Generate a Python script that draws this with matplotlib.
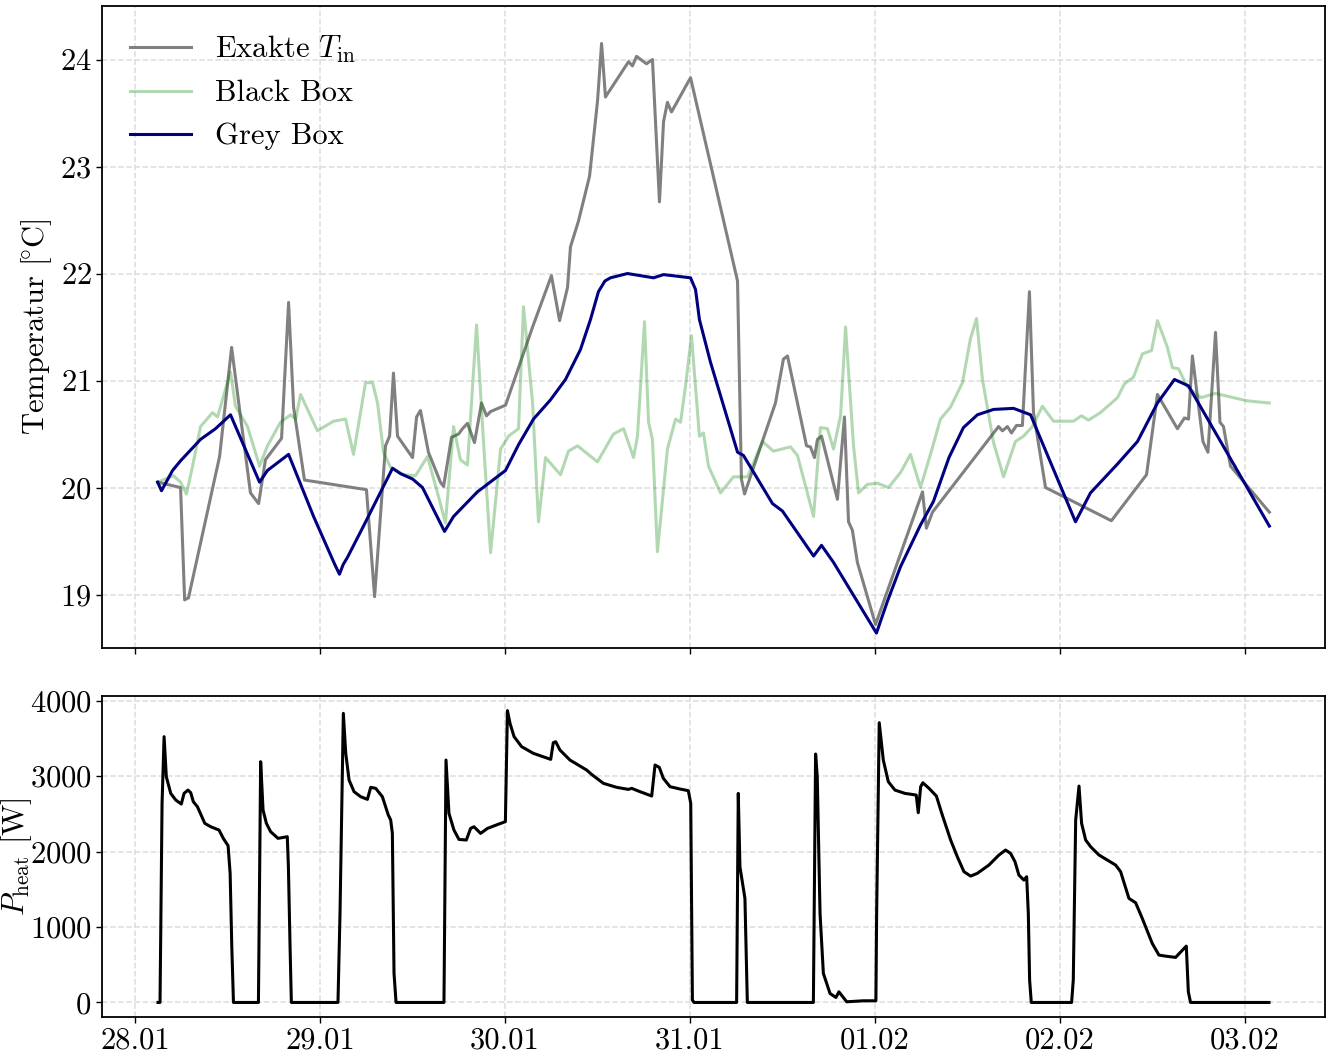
import matplotlib
matplotlib.use("Agg")
import matplotlib.pyplot as plt
import matplotlib.dates as mdates
import pandas as pd

plt.rcParams["font.family"] = ["cmr10", "DejaVu Serif"]
plt.rcParams["mathtext.fontset"] = "cm"
plt.rcParams["axes.formatter.use_mathtext"] = True
plt.rcParams["font.size"] = 22
plt.rcParams["axes.unicode_minus"] = False

start = pd.Timestamp("2024-01-28 00:00")

# measured indoor temperature (days since start, degC)
t_exact = [0.122, 0.246, 0.268, 0.289, 0.457, 0.522, 0.565, 0.624, 0.668, 0.705,
           0.792, 0.830, 0.857, 0.916, 1.251, 1.295, 1.354, 1.376, 1.397, 1.419,
           1.500, 1.522, 1.543, 1.586, 1.651, 1.668, 1.711, 1.749, 1.770, 1.797,
           1.835, 1.873, 1.900, 1.922, 2.003, 2.149, 2.251, 2.295, 2.338, 2.354,
           2.397, 2.457, 2.500, 2.522, 2.543, 2.668, 2.689, 2.711, 2.765, 2.797,
           2.835, 2.857, 2.878, 2.900, 3.003, 3.257, 3.278, 3.295, 3.397, 3.462,
           3.505, 3.527, 3.630, 3.651, 3.673, 3.689, 3.711, 3.797, 3.835, 3.857,
           3.878, 3.905, 4.003, 4.257, 4.278, 4.311, 4.668, 4.689, 4.716, 4.738,
           4.765, 4.797, 4.835, 4.857, 4.922, 5.278, 5.468, 5.527, 5.635, 5.673,
           5.695, 5.716, 5.773, 5.800, 5.841, 5.865, 5.884, 5.922, 6.132]
T_exact = [20.05, 20.00, 18.95, 18.97, 20.29, 21.31, 20.73, 19.95, 19.85, 20.26,
           20.46, 21.73, 20.75, 20.07, 19.98, 18.98, 20.39, 20.48, 21.07, 20.48,
           20.28, 20.66, 20.72, 20.33, 20.05, 20.01, 20.47, 20.50, 20.55, 20.60,
           20.42, 20.79, 20.67, 20.71, 20.77, 21.50, 21.98, 21.56, 21.87, 22.25,
           22.49, 22.91, 23.61, 24.15, 23.65, 23.98, 23.94, 24.03, 23.96, 24.00,
           22.67, 23.42, 23.60, 23.51, 23.83, 21.93, 20.08, 19.94, 20.46, 20.79,
           21.20, 21.23, 20.39, 20.38, 20.28, 20.45, 20.48, 19.89, 20.66, 19.68,
           19.60, 19.30, 18.72, 19.96, 19.62, 19.77, 20.57, 20.53, 20.57, 20.51,
           20.58, 20.58, 21.83, 20.70, 20.00, 19.69, 20.12, 20.87, 20.55, 20.65,
           20.64, 21.23, 20.43, 20.33, 21.45, 20.61, 20.57, 20.20, 19.77]

# black box model prediction
t_black = [0.122, 0.208, 0.246, 0.278, 0.311, 0.354, 0.419, 0.446, 0.489, 0.516,
           0.543, 0.608, 0.673, 0.716, 0.786, 0.841, 0.868, 0.895, 0.986, 1.073,
           1.138, 1.181, 1.246, 1.284, 1.311, 1.343, 1.381, 1.451, 1.516, 1.581,
           1.635, 1.678, 1.722, 1.759, 1.797, 1.846, 1.884, 1.922, 1.976, 2.019,
           2.073, 2.100, 2.149, 2.181, 2.219, 2.300, 2.343, 2.392, 2.500, 2.586,
           2.641, 2.695, 2.716, 2.754, 2.776, 2.797, 2.824, 2.878, 2.922, 2.949,
           2.976, 3.008, 3.051, 3.073, 3.100, 3.165, 3.235, 3.311, 3.392, 3.451,
           3.543, 3.581, 3.668, 3.705, 3.743, 3.776, 3.814, 3.841, 3.884, 3.911,
           3.959, 4.014, 4.073, 4.138, 4.192, 4.246, 4.300, 4.354, 4.408, 4.473,
           4.516, 4.549, 4.581, 4.641, 4.695, 4.759, 4.803, 4.851, 4.905, 4.965,
           5.073, 5.116, 5.154, 5.219, 5.311, 5.349, 5.397, 5.446, 5.495, 5.527,
           5.581, 5.608, 5.641, 5.689, 5.762, 5.841, 5.938, 6.014, 6.132]
T_black = [20.05, 20.11, 20.05, 19.94, 20.20, 20.57, 20.70, 20.66, 20.92, 21.08,
           20.76, 20.57, 20.20, 20.39, 20.61, 20.68, 20.64, 20.87, 20.53, 20.62,
           20.64, 20.31, 20.98, 20.98, 20.79, 20.33, 20.19, 20.12, 20.11, 20.29,
           19.95, 19.67, 20.57, 20.26, 20.21, 21.52, 20.42, 19.39, 20.36, 20.48,
           20.55, 21.69, 20.79, 19.68, 20.28, 20.12, 20.34, 20.39, 20.24, 20.50,
           20.55, 20.28, 20.48, 21.55, 20.61, 20.45, 19.40, 20.36, 20.64, 20.61,
           20.95, 21.42, 20.48, 20.51, 20.20, 19.95, 20.10, 20.10, 20.43, 20.34,
           20.38, 20.30, 19.73, 20.56, 20.55, 20.36, 20.67, 21.50, 20.39, 19.95,
           20.03, 20.04, 20.00, 20.14, 20.31, 20.00, 20.31, 20.64, 20.75, 20.98,
           21.39, 21.58, 21.01, 20.42, 20.10, 20.43, 20.48, 20.57, 20.76, 20.62,
           20.62, 20.67, 20.63, 20.70, 20.84, 20.97, 21.03, 21.25, 21.28, 21.56,
           21.31, 21.12, 21.11, 20.94, 20.84, 20.88, 20.84, 20.81, 20.79]

# grey box model prediction
t_grey = [0.122, 0.143, 0.203, 0.246, 0.354, 0.435, 0.516, 0.673, 0.716, 0.830,
          0.965, 1.080, 1.105, 1.125, 1.149, 1.235, 1.392, 1.435, 1.500, 1.554,
          1.673, 1.722, 1.851, 2.003, 2.073, 2.154, 2.246, 2.327, 2.408, 2.462,
          2.505, 2.540, 2.570, 2.662, 2.803, 2.857, 3.003, 3.030, 3.051, 3.111,
          3.257, 3.289, 3.338, 3.446, 3.500, 3.668, 3.711, 3.776, 4.008, 4.068,
          4.138, 4.246, 4.316, 4.400, 4.478, 4.554, 4.641, 4.749, 4.841, 5.084,
          5.165, 5.311, 5.419, 5.527, 5.619, 5.695, 6.132]
T_grey = [20.05, 19.97, 20.16, 20.25, 20.45, 20.55, 20.68, 20.05, 20.16, 20.31,
          19.73, 19.28, 19.19, 19.28, 19.35, 19.64, 20.18, 20.13, 20.08, 20.00,
          19.59, 19.73, 19.96, 20.16, 20.40, 20.64, 20.82, 21.01, 21.29, 21.57,
          21.83, 21.93, 21.96, 22.00, 21.96, 21.99, 21.96, 21.85, 21.57, 21.17,
          20.33, 20.30, 20.16, 19.85, 19.78, 19.36, 19.46, 19.30, 18.64, 18.94,
          19.26, 19.65, 19.87, 20.28, 20.56, 20.68, 20.73, 20.74, 20.68, 19.68,
          19.95, 20.22, 20.43, 20.79, 21.01, 20.95, 19.64]

# heating power
t_heat = [0.124, 0.135, 0.146, 0.157, 0.169, 0.193, 0.220, 0.250, 0.265, 0.286,
          0.301, 0.315, 0.337, 0.377, 0.409, 0.454, 0.477, 0.503, 0.514, 0.523,
          0.532, 0.667, 0.679, 0.692, 0.710, 0.733, 0.773, 0.823, 0.829, 0.838,
          0.845, 1.097, 1.108, 1.126, 1.139, 1.157, 1.184, 1.220, 1.256, 1.274,
          1.301, 1.337, 1.369, 1.382, 1.391, 1.400, 1.411, 1.670, 1.681, 1.697,
          1.724, 1.751, 1.791, 1.814, 1.832, 1.868, 1.905, 1.967, 2.002, 2.013,
          2.027, 2.049, 2.090, 2.153, 2.247, 2.261, 2.274, 2.297, 2.351, 2.441,
          2.468, 2.532, 2.604, 2.667, 2.685, 2.721, 2.793, 2.811, 2.834, 2.856,
          2.892, 2.946, 2.991, 3.004, 3.013, 3.022, 3.252, 3.261, 3.270, 3.297,
          3.310, 3.667, 3.679, 3.688, 3.703, 3.721, 3.757, 3.789, 3.805, 3.847,
          3.937, 4.005, 4.009, 4.023, 4.045, 4.072, 4.108, 4.162, 4.223, 4.234,
          4.247, 4.259, 4.292, 4.332, 4.364, 4.409, 4.445, 4.481, 4.517, 4.553,
          4.616, 4.670, 4.706, 4.733, 4.757, 4.778, 4.805, 4.820, 4.829, 4.836,
          4.845, 5.063, 5.072, 5.085, 5.103, 5.117, 5.139, 5.166, 5.211, 5.256,
          5.301, 5.328, 5.373, 5.409, 5.445, 5.499, 5.535, 5.571, 5.625, 5.683,
          5.694, 5.706, 6.130]
P_heat = [0, 0, 2639, 3523, 2992, 2771, 2683, 2630, 2771, 2815,
          2780, 2661, 2595, 2374, 2329, 2285, 2175, 2077, 1711, 738,
          0, 0, 3191, 2550, 2374, 2263, 2175, 2197, 1799, 738,
          0, 0, 1180, 3832, 3302, 2948, 2793, 2727, 2692, 2851,
          2838, 2727, 2484, 2418, 2241, 385, 0, 0, 3213, 2506,
          2285, 2161, 2153, 2307, 2329, 2241, 2307, 2365, 2396, 3868,
          3700, 3523, 3390, 3302, 3222, 3443, 3456, 3346, 3213, 3081,
          3023, 2904, 2851, 2824, 2838, 2802, 2736, 3147, 3116, 2970,
          2860, 2829, 2807, 2639, 31, 0, 0, 2771, 1799, 1379,
          0, 0, 3293, 2992, 1180, 385, 119, 66, 141, 9,
          22, 22, 1180, 3708, 3213, 2926, 2815, 2771, 2749, 2515,
          2860, 2912, 2838, 2736, 2484, 2153, 1932, 1733, 1675, 1711,
          1821, 1954, 2020, 1976, 1865, 1688, 1622, 1666, 1180, 296,
          0, 0, 296, 2418, 2868, 2374, 2153, 2064, 1954, 1887,
          1821, 1733, 1379, 1322, 1114, 782, 628, 614, 597, 747,
          141, 0, 0]


def to_time(days):
    return start + pd.to_timedelta(days, unit="D")


fig = plt.figure(figsize=(13.32, 10.57), dpi=100)
ax1 = fig.add_axes([0.0766, 0.3869, 0.9181, 0.6074])
ax2 = fig.add_axes([0.0766, 0.0378, 0.9181, 0.3037], sharex=ax1)

ax1.plot(to_time(t_exact), T_exact, color="grey", lw=2.2, label=r"Exakte $T_{\mathrm{in}}$")
ax1.plot(to_time(t_black), T_black, color="green", alpha=0.3, lw=2.2, label="Black Box")
ax1.plot(to_time(t_grey), T_grey, color="navy", lw=2.2, label="Grey Box")
ax1.set_ylim(18.5, 24.5)
ax1.set_ylabel(r"Temperatur [$\!^{\circ}$C]")
ax1.legend(loc="upper left", frameon=False)
ax1.tick_params(labelbottom=False)

ax2.plot(to_time(t_heat), P_heat, color="black", lw=2.2)
ax2.set_ylabel(r"$P_{\mathrm{heat}}$ [W]", labelpad=-3)
ax2.set_yticks([0, 1000, 2000, 3000, 4000])

ax2.xaxis.set_major_locator(mdates.DayLocator())
ax2.xaxis.set_major_formatter(mdates.DateFormatter("%d.%m"))

for ax in (ax1, ax2):
    ax.grid(True, linestyle="--", color="#dddddd", lw=1.1)
    ax.tick_params(width=1.0, length=4)
    for sp in ax.spines.values():
        sp.set_linewidth(1.3)

fig.savefig("out.png", dpi=100)
